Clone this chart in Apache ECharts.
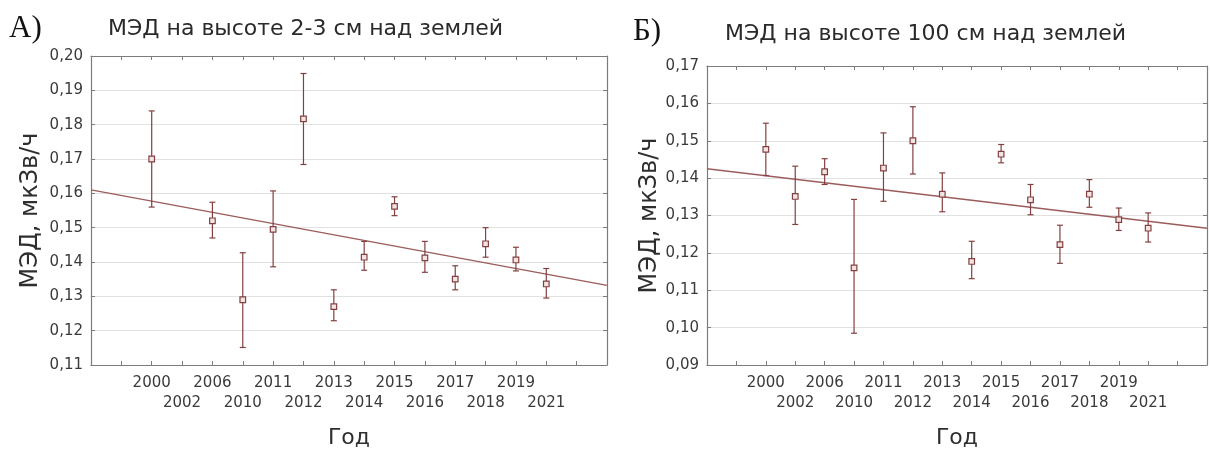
<!DOCTYPE html>
<html>
<head>
<meta charset="utf-8">
<script src="https://cdn.jsdelivr.net/npm/echarts@6/dist/echarts.min.js"></script>
<style>
  html, body { margin: 0; padding: 0; background: #ffffff; }
  #chart { width: 1210px; height: 454px; }
</style>
</head>
<body>
<div id="chart"></div>
<script>
// Slots along the year axis (empty strings are the padding slots at both ends)
const xTicks = ['', '', '2000', '2002', '2006', '2010', '2011', '2012', '2013', '2014',
                '2015', '2016', '2017', '2018', '2019', '2021', '', ''];

// Panel A: dose rate 2-3 cm above ground (mean, lower and upper bound), µSv/h
const yearsA = ['2000', '2006', '2010', '2011', '2012', '2013', '2014', '2015', '2016', '2017', '2018', '2019', '2021'];
const meanA  = [0.170, 0.152, 0.129, 0.1495, 0.1817, 0.127, 0.1414, 0.1562, 0.1412, 0.135, 0.1453, 0.1406, 0.1336];
const lowA   = [0.156, 0.147, 0.1151, 0.1386, 0.1684, 0.1229, 0.1376, 0.1535, 0.137, 0.1319, 0.1414, 0.1374, 0.1295];
const highA  = [0.184, 0.1574, 0.1427, 0.1607, 0.1949, 0.1319, 0.146, 0.159, 0.146, 0.1389, 0.15, 0.1443, 0.1381];
const trendA = [0.161, 0.1332];   // linear trend at the first and last slot

// Panel B: dose rate 100 cm above ground
const yearsB = ['2000', '2002', '2006', '2010', '2011', '2012', '2013', '2014', '2015', '2016', '2017', '2018', '2019', '2021'];
const meanB  = [0.1477, 0.1351, 0.1417, 0.116, 0.1427, 0.150, 0.1357, 0.1177, 0.1464, 0.1342, 0.1222, 0.1357, 0.1289, 0.1266];
const lowB   = [0.1407, 0.1276, 0.1383, 0.0985, 0.1338, 0.1411, 0.131, 0.1131, 0.1441, 0.1302, 0.1172, 0.1322, 0.126, 0.1229];
const highB  = [0.1547, 0.1432, 0.1452, 0.1343, 0.1521, 0.1591, 0.1414, 0.1231, 0.149, 0.1383, 0.1274, 0.1396, 0.132, 0.1307];
const trendB = [0.1425, 0.1266];

const yTicksA = { min: 0.11, max: 0.20, step: 0.01 };
const yTicksB = { min: 0.09, max: 0.17, step: 0.01 };

const FONT = 'DejaVu Sans';
const TEXT = '#3a3a3a';
const AXIS = '#7c7c7c';
const MARK = '#844040';
const TREND = '#9c5c5c';

const chart = echarts.init(document.getElementById('chart'), null, { renderer: 'canvas' });

function rows(years, mean, low, high) {
  return years.map((y, i) => [xTicks.indexOf(y), mean[i], low[i], high[i]]);
}

// Error bar with caps and a small open square at the mean
function renderErr(params, api) {
  const x = api.value(0);
  const pm = api.coord([x, api.value(1)]);
  const pl = api.coord([x, api.value(2)]);
  const ph = api.coord([x, api.value(3)]);
  const cap = 3, s = 2.8;
  const ls = { stroke: MARK, lineWidth: 1.2 };
  return {
    type: 'group',
    children: [
      { type: 'line', shape: { x1: pm[0], y1: pl[1], x2: pm[0], y2: ph[1] }, style: ls },
      { type: 'line', shape: { x1: pm[0] - cap, y1: ph[1], x2: pm[0] + cap, y2: ph[1] }, style: ls },
      { type: 'line', shape: { x1: pm[0] - cap, y1: pl[1], x2: pm[0] + cap, y2: pl[1] }, style: ls },
      { type: 'rect', shape: { x: pm[0] - s, y: pm[1] - s, width: 2 * s, height: 2 * s },
        style: { fill: '#f3e4e4', stroke: MARK, lineWidth: 1.2 } }
    ]
  };
}

function xAxes(gridIndex) {
  const common = {
    gridIndex, type: 'value', min: 0, max: xTicks.length - 1, interval: 1,
    axisLine: { show: true, onZero: false, lineStyle: { color: AXIS, width: 1.2 } },
    axisTick: { show: true, inside: true, length: 4, lineStyle: { color: AXIS } },
    splitLine: { show: false }
  };
  return [
    Object.assign({}, common, {
      position: 'bottom',
      name: 'Год', nameLocation: 'middle', nameGap: 62,
      nameTextStyle: { fontFamily: FONT, fontSize: 22, color: '#2e2e2e' },
      axisLabel: {
        show: true, margin: 8, fontFamily: FONT, fontSize: 15, color: TEXT, lineHeight: 20,
        formatter: v => {
          const i = Math.round(v);
          const t = xTicks[i];
          if (!t) return '';
          return i % 2 === 1 ? '\n' + t : t;
        }
      }
    }),
    Object.assign({}, common, { position: 'top', axisLabel: { show: false } })
  ];
}

function yAxes(gridIndex, ticks, gap) {
  const common = {
    gridIndex, type: 'value', min: ticks.min, max: ticks.max, interval: ticks.step,
    axisLine: { show: true, onZero: false, lineStyle: { color: AXIS, width: 1.2 } },
    axisTick: { show: true, inside: true, length: 4, lineStyle: { color: AXIS } }
  };
  return [
    Object.assign({}, common, {
      position: 'left',
      name: 'МЭД, мкЗв/ч', nameLocation: 'middle', nameGap: gap,
      nameTextStyle: { fontFamily: FONT, fontSize: 24, color: '#2e2e2e' },
      splitLine: { show: true, lineStyle: { color: '#e2e2e2', width: 1 } },
      axisLabel: {
        show: true, margin: 8, fontFamily: FONT, fontSize: 15, color: TEXT,
        formatter: v => v.toFixed(2).replace('.', ',')
      }
    }),
    Object.assign({}, common, { position: 'right', splitLine: { show: false }, axisLabel: { show: false } })
  ];
}

const option = {
  backgroundColor: '#ffffff',
  animation: false,
  grid: [
    { left: 91, top: 56, width: 516, height: 317 },
    { left: 707, top: 66, width: 510, height: 314 }
  ],
  xAxis: [].concat(xAxes(0), xAxes(1)),
  yAxis: [].concat(yAxes(0, yTicksA, 48), yAxes(1, yTicksB, 45)),
  graphic: [
    { type: 'text', x: 9, y: 29, style: { text: 'А)', fontFamily: 'Liberation Serif', fontSize: 31, fill: '#111', verticalAlign: 'middle' } },
    { type: 'text', x: 108, y: 29, style: { text: 'МЭД на высоте 2-3 см над землей', fontFamily: FONT, fontSize: 22, fill: '#2a2a2a', verticalAlign: 'middle' } },
    { type: 'text', x: 633, y: 32, style: { text: 'Б)', fontFamily: 'Liberation Serif', fontSize: 31, fill: '#111', verticalAlign: 'middle' } },
    { type: 'text', x: 725, y: 34, style: { text: 'МЭД на высоте 100 см над землей', fontFamily: FONT, fontSize: 22, fill: '#2a2a2a', verticalAlign: 'middle' } }
  ],
  series: [
    {
      type: 'line', xAxisIndex: 0, yAxisIndex: 0,
      data: [[0, trendA[0]], [xTicks.length - 1, trendA[1]]],
      showSymbol: false, lineStyle: { color: TREND, width: 1.4 }, z: 2
    },
    {
      type: 'custom', xAxisIndex: 0, yAxisIndex: 0,
      data: rows(yearsA, meanA, lowA, highA),
      encode: { x: 0, y: [1, 2, 3] },
      renderItem: renderErr, z: 3
    },
    {
      type: 'line', xAxisIndex: 2, yAxisIndex: 2,
      data: [[0, trendB[0]], [xTicks.length - 1, trendB[1]]],
      showSymbol: false, lineStyle: { color: TREND, width: 1.4 }, z: 2
    },
    {
      type: 'custom', xAxisIndex: 2, yAxisIndex: 2,
      data: rows(yearsB, meanB, lowB, highB),
      encode: { x: 0, y: [1, 2, 3] },
      renderItem: renderErr, z: 3
    }
  ]
};

chart.setOption(option);
</script>
</body>
</html>
